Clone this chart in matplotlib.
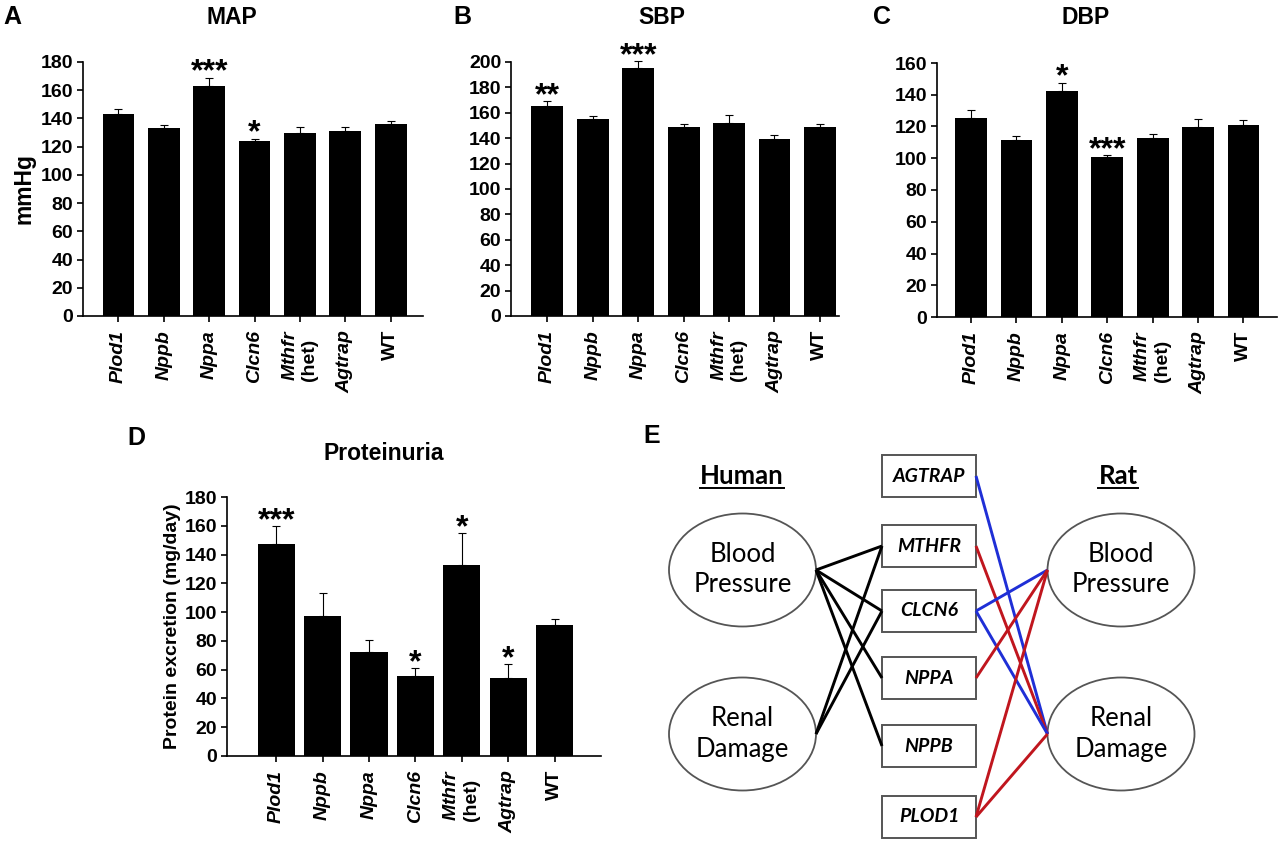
import numpy as np
import matplotlib.pyplot as plt
from matplotlib.patches import Ellipse, Rectangle

plt.rcParams['font.family'] = 'Liberation Sans'
plt.rcParams['font.weight'] = 'bold'
plt.rcParams['mathtext.fontset'] = 'custom'
plt.rcParams['mathtext.it'] = 'Liberation Sans:italic:bold'
plt.rcParams['mathtext.rm'] = 'Liberation Sans:bold'

strains = ['Plod1', 'Nppb', 'Nppa', 'Clcn6', '$\\mathit{Mthfr}$\n(het)', 'Agtrap', 'WT']

# panel A - MAP
map_mean = [143, 133, 163, 124, 130, 131, 136]
map_err = [3.5, 2.3, 6.0, 1.5, 4.0, 3.2, 2.0]
map_stars = {2: '***', 3: '*'}

# panel B - SBP
sbp_mean = [165.5, 155.5, 195.5, 149, 152, 139.5, 149]
sbp_err = [3.7, 2.0, 5.0, 2.3, 6.3, 2.7, 2.3]
sbp_stars = {0: '**', 2: '***'}

# panel C - DBP
dbp_mean = [125.6, 111.5, 142.6, 100.8, 112.8, 119.5, 121.2]
dbp_err = [5.0, 2.7, 5.0, 1.2, 2.3, 5.4, 3.1]
dbp_stars = {2: '*', 3: '***'}

# panel D - proteinuria
prot_mean = [147.3, 97, 72.6, 55.7, 132.5, 54.3, 90.7]
prot_err = [12.3, 16, 8.1, 5.3, 22.5, 9.3, 4.4]
prot_stars = {0: '***', 3: '*', 4: '*', 5: '*'}

# panel E - gene diagram (pixel coords of the figure)
genes = ['AGTRAP', 'MTHFR', 'CLCN6', 'NPPA', 'NPPB', 'PLOD1']
gene_y = [476, 546, 611, 678, 746, 817]
box_x0, box_x1, box_h = 882, 976, 42
nodes = {'hBP': (742.5, 570), 'hRD': (742.5, 734), 'rBP': (1121, 570), 'rRD': (1121, 734)}
node_text = {'hBP': 'Blood\nPressure', 'hRD': 'Renal\nDamage', 'rBP': 'Blood\nPressure', 'rRD': 'Renal\nDamage'}
ell_w, ell_h = 147, 113
human_links = [('hBP', 'MTHFR'), ('hBP', 'CLCN6'), ('hBP', 'NPPA'), ('hBP', 'NPPB'),
               ('hRD', 'MTHFR'), ('hRD', 'CLCN6')]
rat_links = [('AGTRAP', 'rRD', 'b'), ('MTHFR', 'rRD', 'r'), ('CLCN6', 'rBP', 'b'), ('CLCN6', 'rRD', 'b'),
             ('NPPA', 'rBP', 'r'), ('PLOD1', 'rBP', 'r'), ('PLOD1', 'rRD', 'r')]
link_colors = {'b': '#1f2fd6', 'r': '#c0161e'}

W, H = 1280, 842
fig = plt.figure(figsize=(12.8, 8.42), dpi=100)


def px_axes(l, t, r, b):
    return fig.add_axes([l / W, 1 - b / H, (r - l) / W, (b - t) / H])


def bar_panel(ax, means, errs, stars, ymax, xlim, width):
    x = np.arange(len(strains))
    ax.bar(x, means, width=width, color='black')
    ax.errorbar(x, means, yerr=[np.zeros(len(errs)), errs], fmt='none', ecolor='black',
                elinewidth=0.8, capsize=3, capthick=0.8, clip_on=False)
    for i, s in stars.items():
        ax.annotate(s, (x[i], means[i] + errs[i]), xytext=(0, -2), textcoords='offset points',
                    ha='center', va='baseline', fontsize=23, fontweight='bold',
                    annotation_clip=False)
    ax.set_ylim(0, ymax)
    ax.set_yticks(np.arange(0, ymax + 1, 20))
    ax.set_xlim(*xlim)
    ax.set_xticks(x)
    ax.set_xticklabels(strains, rotation=90, fontsize=14, va='top', ha='center', multialignment='left')
    for lbl in ax.get_xticklabels():
        lbl.set_fontweight('bold')
        if lbl.get_text() not in ('WT',) and not lbl.get_text().startswith('$'):
            lbl.set_fontstyle('italic')
    for lbl in ax.get_yticklabels():
        lbl.set_fontweight('bold')
    for sp in ['top', 'right']:
        ax.spines[sp].set_visible(False)
    for sp in ['left', 'bottom']:
        ax.spines[sp].set_linewidth(1.2)
    ax.tick_params(axis='x', length=4, width=1.2, pad=6)
    ax.tick_params(axis='y', length=4, width=1.2, pad=3, labelsize=14)


axA = px_axes(83, 62, 423, 316)
bar_panel(axA, map_mean, map_err, map_stars, 180, (-0.78, 6.71), 0.7)
axA.set_ylabel('mmHg', fontsize=16.5, fontweight='bold', labelpad=4)

axB = px_axes(511, 62, 839, 316)
bar_panel(axB, sbp_mean, sbp_err, sbp_stars, 200, (-0.8, 6.42), 0.7)

axC = px_axes(937, 63, 1277, 317)
bar_panel(axC, dbp_mean, dbp_err, dbp_stars, 160, (-0.75, 6.74), 0.7)

axD = px_axes(227, 497, 601, 756)
bar_panel(axD, prot_mean, prot_err, prot_stars, 180, (-1.06, 7.0), 0.8)
axD.set_ylabel('Protein excretion (mg/day)', fontsize=14, fontweight='bold', labelpad=3)

# titles and panel letters
for tx, ty, t in [(232, 18, 'MAP'), (662, 18, 'SBP'), (1086, 18, 'DBP'), (384, 453, 'Proteinuria')]:
    fig.text(tx / W, 1 - ty / H, t, ha='center', va='center', fontsize=16.5, fontweight='bold')
for tx, ty, t in [(12, 17, 'A'), (462, 17, 'B'), (882, 17, 'C'), (136, 438, 'D'), (652, 436, 'E')]:
    fig.text(tx / W, 1 - ty / H, t, ha='center', va='center', fontsize=18, fontweight='bold')

# panel E diagram
axE = fig.add_axes([640 / W, 0, 640 / W, 402 / H])
axE.set_xlim(640, 1280)
axE.set_ylim(842, 440)
axE.axis('off')
gpos = dict(zip(genes, gene_y))
for g, gy in zip(genes, gene_y):
    axE.add_patch(Rectangle((box_x0, gy - box_h / 2), box_x1 - box_x0, box_h, fill=False,
                            edgecolor='#555555', lw=1.4))
    axE.text((box_x0 + box_x1) / 2, gy, g, ha='center', va='center', fontsize=14,
             family='Lato', fontweight='bold', fontstyle='italic')
for k, (cx, cy) in nodes.items():
    axE.add_patch(Ellipse((cx, cy), ell_w, ell_h, fill=False, edgecolor='#555555', lw=1.3))
    axE.text(cx, cy, node_text[k], ha='center', va='center', fontsize=18.5, family='Lato',
             fontweight='normal', linespacing=1.25)
for n, g in human_links:
    cx, cy = nodes[n]
    axE.plot([cx + ell_w / 2, box_x0], [cy, gpos[g]], color='black', lw=2.1, solid_capstyle='butt')
for g, n, c in rat_links:
    cx, cy = nodes[n]
    axE.plot([box_x1, cx - ell_w / 2], [gpos[g], cy], color=link_colors[c], lw=2.1, solid_capstyle='butt')
for tx, t in [(742, 'Human'), (1118, 'Rat')]:
    axE.text(tx, 476, t, ha='center', va='center', fontsize=18.5, family='Lato')
fig.canvas.draw()
for tt in [c for c in axE.texts if c.get_text() in ('Human', 'Rat')]:
    bb = tt.get_window_extent().transformed(axE.transData.inverted())
    axE.plot([bb.x0, bb.x1], [488, 488], color='black', lw=1.4)

fig.savefig('out.png', dpi=100)
